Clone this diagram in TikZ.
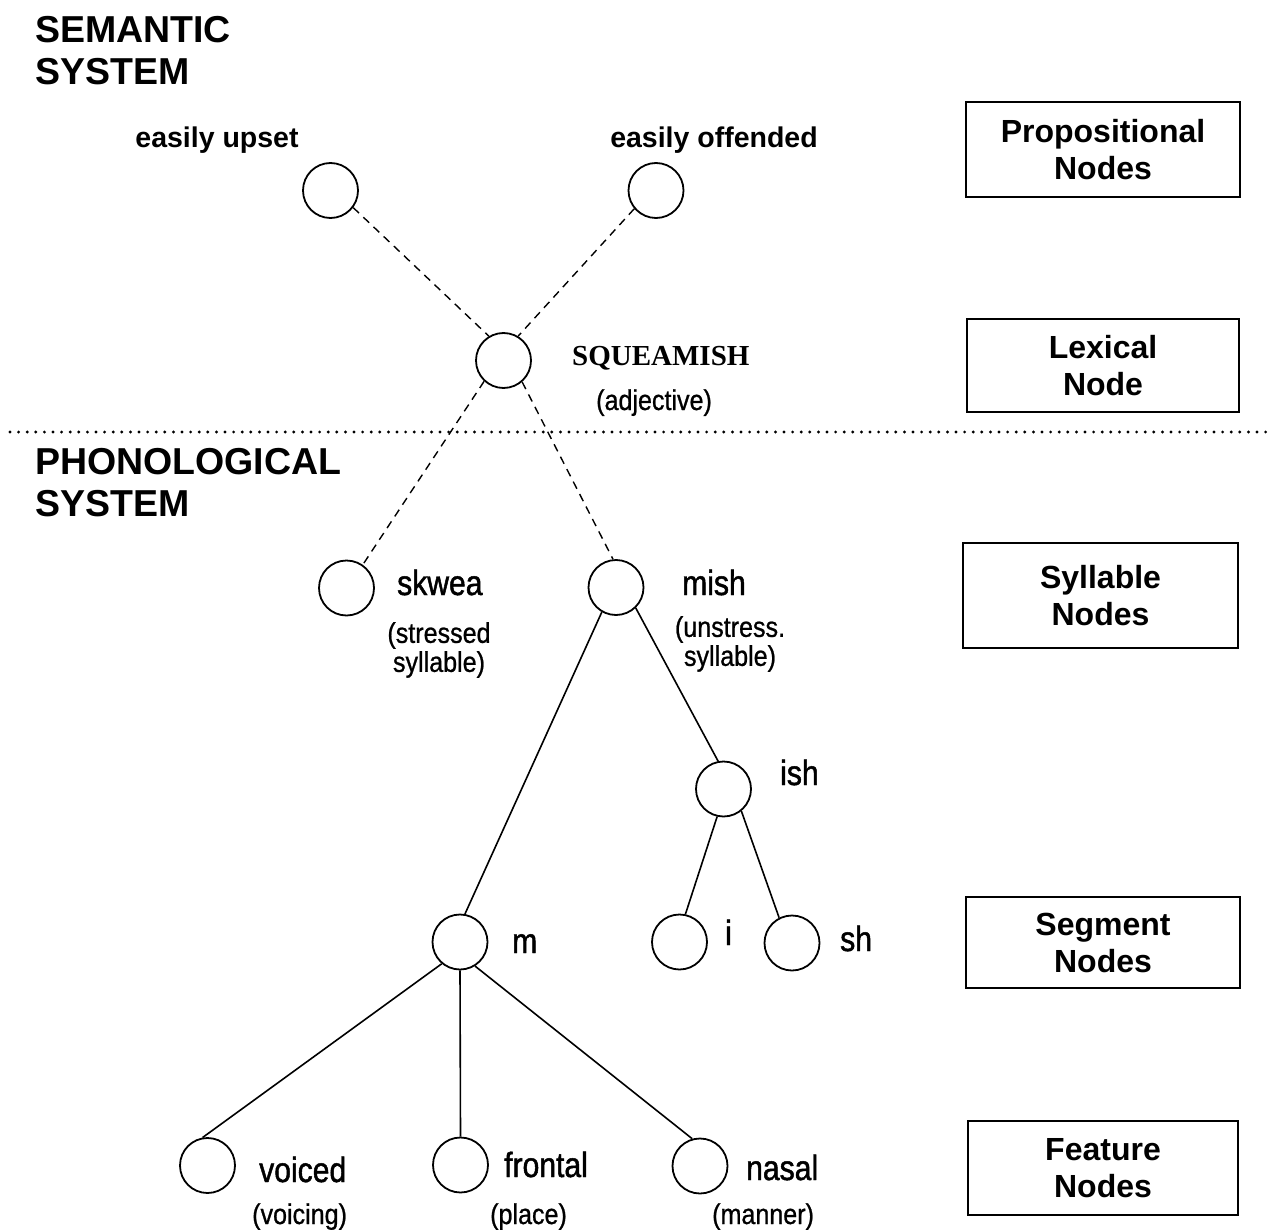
\documentclass[tikz,border=0pt]{standalone}
\usepackage{fontspec}
\setmainfont{Liberation Sans}
\newfontfamily\labfont[FakeStretch=0.86,FakeBold=1.3]{Liberation Sans}
\newfontfamily\subfont[FakeStretch=0.88,FakeBold=0.8]{Liberation Sans}
\newfontfamily\serfont{Liberation Serif}
\begin{document}
\begin{tikzpicture}[x=1pt,y=-1pt,
  nd/.style={circle,draw,line width=1.8pt,minimum size=55pt,inner sep=0pt},
  tree/.style={line width=1.6pt},
  dsh/.style={line width=1.4pt,dash pattern=on 8pt off 6pt},
  dotline/.style={line width=3.2pt,line cap=round,dash pattern=on 0pt off 8.6pt},
  lvl/.style={draw,line width=1.8pt,font=\bfseries\fontsize{32}{37}\selectfont,align=center,inner sep=0pt},
  ttl/.style={font=\bfseries\fontsize{37.5}{42.5}\selectfont,align=left,inner sep=0pt,anchor=north west},
  prop/.style={font=\bfseries\fontsize{28.5}{34}\selectfont,inner sep=0pt,anchor=base},
  lab/.style={font=\labfont\fontsize{35}{40}\selectfont,inner sep=0pt,anchor=base west},
  sub/.style={font=\subfont\fontsize{28.5}{29}\selectfont,inner sep=0pt},
]
\path[use as bounding box,fill=white] (0,0) rectangle (1273,1230);

% titles
\node[ttl] (sem) at (35,16) {SEMANTIC\\SYSTEM};
\node[ttl] (pho) at (35,448) {PHONOLOGICAL\\SYSTEM};

% level boxes
\node[lvl,minimum width=274pt,minimum height=95pt] (bprop) at (1103,149.5) {Propositional\\Nodes};
\node[lvl,minimum width=272pt,minimum height=93pt] (blex) at (1103,365.5) {Lexical\\Node};
\node[lvl,minimum width=275pt,minimum height=105pt] (bsyl) at (1100.5,595.5) {Syllable\\Nodes};
\node[lvl,minimum width=274pt,minimum height=91pt] (bseg) at (1103,942.5) {Segment\\Nodes};
\node[lvl,minimum width=270pt,minimum height=94pt] (bfea) at (1103,1168) {Feature\\Nodes};

% divider
\coordinate (dl) at (10,432);
\coordinate (dr) at (1273,432);
\draw[dotline] (dl) -- (dr);

% circles
\node[nd] (up) at (330.5,190.5) {};
\node[nd] (off) at (656,190.5) {};
\node[nd] (sq) at (503.5,360.5) {};
\node[nd] (sk) at (346.5,588) {};
\node[nd] (mi) at (616,587.5) {};
\node[nd] (ish) at (723.5,789) {};
\node[nd] (m) at (460,942) {};
\node[nd] (i) at (679.5,942) {};
\node[nd] (sh) at (792,943) {};
\node[nd] (v) at (207.5,1165.5) {};
\node[nd] (f) at (460.5,1165) {};
\node[nd] (n) at (700,1166) {};

% dashed connectors
\draw[dsh] (up.323) -- (sq.121);
\draw[dsh] (off.220) -- (sq.59);
\draw[dsh] (sq.227) -- (sk.55);
\draw[dsh] (sq.311) -- (mi.96);

% solid connectors
\draw[tree] (mi.240) -- (m.80);
\draw[tree] (mi.314) -- (ish.101);
\draw[tree] (ish.257) -- (i.78);
\draw[tree] (ish.309) -- (sh.117);
\draw[tree] (m.230) -- (v.100);
\draw[tree] (m.south) -- (f.north);
\draw[tree] (m.302) -- (n.106);

% labels
\node[prop] (tup) at (217,148) {easily upset};
\node[prop] (toff) at (714,148) {easily offended};
\node[font=\serfont\bfseries\fontsize{29}{34}\selectfont,inner sep=0pt,anchor=base west] (tsq) at (572,365) {SQUEAMISH};
\node[sub,anchor=base west] (tadj) at (596,410) {(adjective)};
\node[lab] (tsk) at (397,595) {skwea};
\node[sub,align=center,anchor=north] (tsksub) at (439,622) {(stressed\\syllable)};
\node[lab] (tmi) at (682,595) {mish};
\node[sub,align=center,anchor=north] (tmisub) at (730,616) {(unstress.\\syllable)};
\node[lab] (tish) at (780,785) {ish};
\node[lab] (tm) at (512,953) {m};
\node[lab] (ti) at (725,945) {i};
\node[lab] (tsh) at (840,951) {sh};
\node[lab] (tv) at (259,1182) {voiced};
\node[lab] (tf) at (504,1177) {frontal};
\node[lab] (tn) at (746,1180) {nasal};
\node[sub,anchor=base west] (tvs) at (252,1224) {(voicing)};
\node[sub,anchor=base west] (tfs) at (490,1224) {(place)};
\node[sub,anchor=base west] (tns) at (712,1224) {(manner)};
\end{tikzpicture}
\end{document}
